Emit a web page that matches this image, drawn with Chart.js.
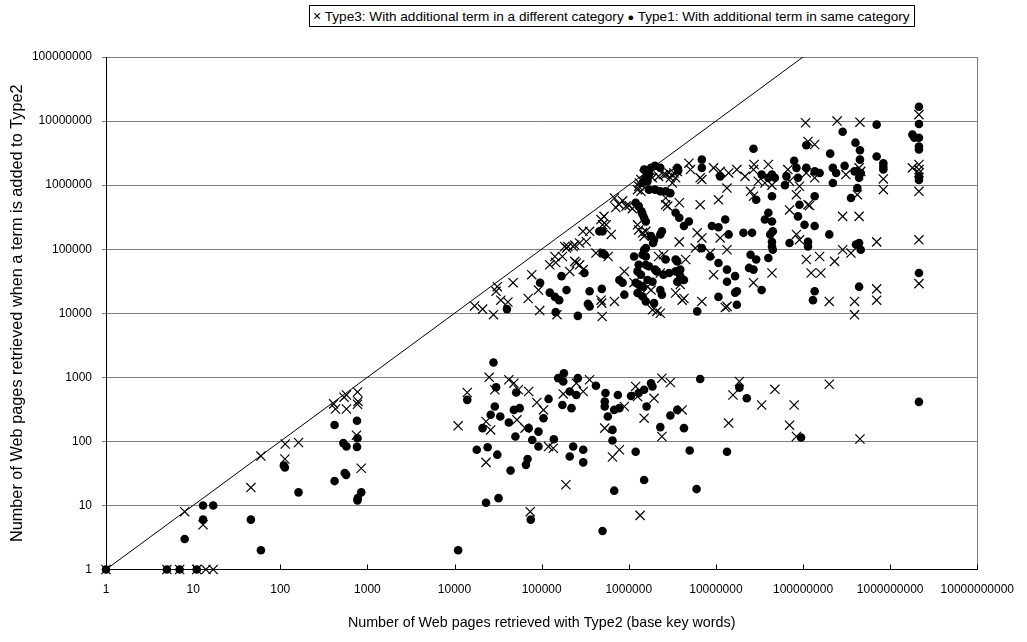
<!DOCTYPE html>
<html>
<head>
<meta charset="utf-8">
<script src="https://cdn.jsdelivr.net/npm/chart.js@4.4.1/dist/chart.umd.min.js"></script>
<style>
  body { margin: 0; background: #fff; }
  #wrap { position: relative; width: 1027px; height: 642px; }
  #legend {
    position: absolute; left: 309px; top: 5px; height: 20px;
    border: 1px solid #000; background: #fff; color: #000;
    font: 13.6px "Liberation Sans", Arial, sans-serif; line-height: 20px;
    padding: 0 4px 0 3px; white-space: nowrap;
  }
</style>
</head>
<body>
<div id="wrap">
  <canvas id="scatter" width="1027" height="642"></canvas>
  <div id="legend"></div>
</div>
<script>
const seriesNames = ['Type3: With additional term in a different category', 'Type1: With additional term in same category'];
const xTitle = 'Number of Web pages retrieved with Type2 (base key words)';
const yTitle = 'Number of Web pages retrieved when a term is added to Type2';

const xTicks = [1, 10, 100, 1e3, 1e4, 1e5, 1e6, 1e7, 1e8, 1e9, 1e10];
const xTickLabels = ['1', '10', '100', '1000', '10000', '100000', '1000000', '10000000', '100000000', '1000000000', '10000000000'];
const yTicks = [1, 10, 100, 1e3, 1e4, 1e5, 1e6, 1e7, 1e8];
const yTickLabels = ['1', '10', '100', '1000', '10000', '100000', '1000000', '10000000', '100000000'];

// y = x reference line
const diagonal = [[1, 1], [1e8, 1e8]];

// Type3 (crosses): [base hits, hits with added term]
const type3Points = [
  [1,1],[5,1],[7,1],[11,1],[14,1],[17,1],[8,8],[13,5],[46,19],[60,59],[114,91],[113,53],[162,96],
  [410,385],[430,320],[540,490],[575,530],[575,320],[770,590],[770,380],[780,420],[750,125],[850,38],
  [17000,13000],[21000,11600],[28000,9500],[31000,26000],[30000,22000],[34000,16000],[41000,15000],
  [47000,30000],[70000,17000],[77000,40000],[92000,23000],[95000,11000],[150000,9500],[124000,57000],
  [145000,62000],[142000,77000],[173000,77000],[184000,110000],[210000,45000],[250000,61000],[273000,57000],
  [240000,64500],[200000,110000],[230000,110000],[240000,116000],[193000,104000],[273000,125000],
  [298000,190000],[325000,132000],[355000,190000],[480000,16000],[490000,14400],[495000,8900],[685000,15300],
  [890000,45000],[630000,170000],[580000,77000],[420000,87000],[500000,240000],[520000,325000],[480000,290000],
  [685000,630000],[710000,448000],[770000,505000],[850000,569000],[1010000,480000],[1100000,430000],
  [5.5e5,2.4e5],[9.3e5,4.7e5],[1.26e6,2.4e5],[1.3e6,2.0e5],[1.44e6,1.8e5],[1.5e6,1.6e5],[1.57e6,1.9e5],
  [2.65e6,6.3e5],[2.65e6,4.95e5],[1.26e6,8.5e5],[1.38e6,8.0e5],[1.3e6,9.6e5],[1.32e6,1.08e6],[1.38e6,1.22e6],
  [1.5e6,1.46e6],[1.87e6,1.3e6],[2.2e6,1.37e6],[2.5e6,1.46e6],[3.0e6,1.3e6],[3.16e6,1.08e6],[1.6e6,1.55e6],
  [1.75e6,1.7e6],[3.0e5,4.8e4],[1.15e6,3.0e4],[1.64e6,2.6e4],[1.8e6,2.3e4],[1.87e6,1.13e4],[2.1e6,1.07e4],
  [2.3e6,1.0e4],[2.2e6,7.7e4],[2.5e6,8.2e4],[3.45e6,2.07e4],[2.3e6,4.25e4],[4.1e6,1.6e4],[4.3e6,1.7e4],
  [3.9e6,2.8e4],[1.44e6,2.07e4],[2.65e6,1.46e6],[3.3e6,1.55e6],[3.6e6,1.64e6],[3.8e6,5.3e5],[4.9e6,2.2e6],
  [5.1e6,1.75e6],[6.6e6,4.95e5],[6.9e6,1.22e6],[9.4e6,1.86e6],[1.07e7,5.9e5],[1.12e7,1.64e6],[1.34e7,9.0e5],
  [1.4e7,1.55e6],[3.8e6,1.3e5],[6.1e6,1.8e5],[6.9e6,1.5e5],[5.8e6,1.04e5],[1.12e7,1.5e5],[1.34e7,9.8e4],
  [8.6e6,8.7e4],[9.4e6,4.0e4],[1.34e7,1.28e4],[2.9e6,1.55e6],[3.45e6,1.3e6],[6.6e6,1.3e6],[1.74e7,1.75e6],
  [2.16e7,1.37e6],[2.7e7,1.75e6],[3.06e7,1.15e6],[3.65e7,1.08e6],[4.4e7,1.0e6],[2.8e6,4.7e5],[2.5e7,8.0e5],
  [2.7e7,6.7e5],[4.5e6,6.9e4],[2.7e7,3.0e4],[6.9e6,1.53e4],[1.28e7,1.23e4],[4.4e7,4.25e4],[6.7e7,1.75e6],
  [7.0e7,1.15e6],[9.1e7,9.6e5],[1.09e8,1.55e6],[1.36e8,1.3e6],[3.1e8,1.46e6],[4.4e8,1.86e6],[4.6e8,1.64e6],
  [8.4e7,7.1e5],[7.0e7,4.1e5],[1.14e8,4.95e5],[2.85e8,3.25e5],[4.4e8,3.25e5],[4.2e8,7.1e5],[8.4e7,1.7e5],
  [9.1e7,1.4e5],[1.09e8,6.9e4],[1.55e8,7.7e4],[2.3e8,6.45e4],[2.85e8,9.8e4],[3.55e8,8.7e4],[1.24e8,4.25e4],
  [1.6e8,4.25e4],[2.0e8,1.53e4],[3.9e8,1.53e4],[3.9e8,9450],[8.35e8,1.25e6],[8.35e8,8.5e5],[7.0e8,1.3e5],
  [7.0e8,2.4e4],[7.0e8,1.6e4],[2.14e9,1.26e7],[1.8e9,1.86e6],[2.14e9,2.1e6],[2.14e9,1.75e6],[2.14e9,1.55e6],
  [2.14e9,8.0e5],[2.14e9,1.4e5],[2.14e9,2.9e4],[4.5e8,9.6e6],[1.07e8,9.4e6],[2.46e8,1.0e7],[1.14e8,4.8e6],
  [1.36e8,4.3e6],[2.74e7,2.1e6],[4.0e7,2.1e6],[1.19e8,4.8e5],
  [1.4e4,580],[1.1e4,175],[2.5e4,1000],[2.9e4,640],[2.3e4,204],[2.6e4,151],[4.2e4,915],[4.8e4,810],
  [5.4e4,640],[7.1e4,600],[5.2e4,217],[6.45e4,161],[8.8e4,404],[1.05e5,310],[1.2e5,83],[1.36e5,78],
  [2.3e4,47],[1.77e5,550],[2.5e5,810],[3.0e5,600],[3.55e5,915],[1.9e5,21],[7.4e4,8],[5.3e5,161],
  [6.5e5,57],[7.8e5,74],[8.9e5,350],[1.2e6,720],[1.26e6,500],[1.5e6,230],[1.95e6,470],[2.4e6,970],
  [3.0e6,830],[2.4e6,119],[4.1e6,310],[1.4e7,193],[1.57e7,530],[1.35e6,7],[1.86e7,860],[4.75e7,650],
  [3.35e7,370],[7.9e7,370],[2.0e8,780],[7.0e7,179],[8.4e7,119],[4.5e8,109]
];

// Type1 (filled circles)
const type1Points = [
  [1,1],[5,1],[7,1],[11,1],[8,3],[13,10],[17,10],[13,6],[46,6],[60,2],[113,39],[110,42],[162,16],
  [420,180],[760,210],[530,94],[575,83],[760,82],[770,112],[550,32],[570,30],[420,24],[850,16],[770,12],[775,13],
  [40000,11600],[96000,30000],[124000,21000],[142000,18000],[159000,16000],[145000,10400],[193000,23000],
  [169000,38000],[310000,42500],[355000,22000],[490000,24000],[260000,9100],[340000,14000],[355000,12800],
  [780000,33000],[850000,30000],[890000,19500],[500000,190000],[460000,190000],[500000,87000],[530000,82000],
  [1.2e6,5.3e5],[1.3e6,4.7e5],[1.4e6,3.9e5],[1.44e6,3.5e5],[1.5e6,3.1e5],[1.57e6,2.7e5],[1.8e6,1.6e5],
  [1.95e6,1.4e5],[2.3e6,1.7e5],[2.4e6,1.9e5],[1.9e6,1.25e5],[2.0e6,8.5e5],[2.3e6,8.0e5],[2.65e6,8.0e5],
  [3.0e6,7.5e5],[1.57e6,1.04e5],[1.5e6,9.8e4],
  [1.15e6,7.7e4],[1.44e6,8.2e4],[1.57e6,7.7e4],[1.3e6,5.7e4],[1.57e6,5.7e4],[1.26e6,4.5e4],[1.38e6,4.0e4],
  [1.2e6,3.0e4],[1.3e6,2.8e4],[1.44e6,2.6e4],[1.26e6,2.07e4],[1.44e6,1.83e4],[1.57e6,1.53e4],[1.95e6,1.44e4],
  [1.64e6,3.3e4],[1.87e6,3.1e4],[2.0e6,4.8e4],[2.1e6,4.5e4],[2.65e6,6.9e4],[2.5e6,4.0e4],[2.9e6,4.25e4],
  [2.3e6,2.3e4],[2.4e6,1.95e4],[3.45e6,6.9e4],[1.7e6,5.4e4],[3.45e6,4.5e4],[3.6e6,3.1e4],[4.3e6,3.3e4],
  [1.5e6,1.75e6],[1.64e6,1.55e6],[1.8e6,1.86e6],[2.0e6,2.0e6],[2.3e6,1.86e6],[1.57e6,1.3e6],[1.44e6,1.08e6],
  [1.64e6,1.15e6],[1.7e6,1.46e6],[1.7e6,8.5e5],[3.6e6,1.86e6],[3.7e6,1.7e6],[6.9e6,2.5e6],[6.9e6,1.86e6],
  [1.12e7,1.37e6],
  [3.45e6,3.7e5],[3.8e6,3.1e5],[4.3e6,2.3e5],[4.9e6,2.7e5],[9.0e6,2.3e5],[1.07e7,2.2e5],[1.28e7,2.9e5],
  [1.4e7,1.7e5],[6.9e6,1.04e5],[8.6e6,7.7e4],[1.07e7,6.1e4],[1.34e7,4.8e4],[1.34e7,3.1e4],[6.1e6,1.07e4],
  [1.07e7,1.8e4],[1.66e7,2.1e4],
  [3.35e7,1.46e6],[4.0e7,1.3e6],[4.4e7,1.46e6],[2.9e7,5.9e5],[4.4e7,6.7e5],[2.07e7,1.8e5],[2.6e7,1.8e5],
  [4.0e7,3.7e5],[3.65e7,2.9e5],[4.4e7,2.7e5],[4.2e7,1.7e5],[4.4e7,1.3e5],[1.66e7,3.8e4],[2.5e7,8.2e4],
  [2.4e7,5.1e4],[2.7e7,4.8e4],[2.9e7,6.9e4],[4.0e7,7.3e4],[4.4e7,1.1e5],[3.35e7,2.3e4],[1.74e7,2.2e4],
  [1.74e7,1.36e4],[3.6e6,6.45e4],[3.9e6,4.8e4],[3.9e6,3.8e4],
  [4.75e7,1.3e6],[6.45e7,1.37e6],[8.4e7,1.86e6],[8.75e7,1.3e6],[1.09e8,1.86e6],[1.36e8,1.64e6],[1.55e8,1.55e6],
  [2.2e8,1.86e6],[2.4e8,1.55e6],[3.0e8,2.0e6],[3.9e8,1.64e6],[4.4e8,1.3e6],[4.6e8,1.55e6],[6.2e7,1.0e6],
  [1.36e8,6.7e5],[9.1e7,4.95e5],[2.2e8,1.08e6],[3.55e8,6.3e5],[4.2e8,9.0e5],[8.75e7,3.25e5],[1.04e8,2.4e5],
  [1.36e8,2.3e5],[2.0e8,1.7e5],[4.5e7,1.9e5],[7.0e7,1.25e5],[1.14e8,1.3e5],[1.14e8,1.1e5],[4.5e7,9.8e4],
  [4.05e8,1.18e5],[4.4e8,1.25e5],[4.6e8,9.8e4],[1.36e8,2.2e4],[1.3e8,1.6e4],[4.4e8,2.6e4],
  [7.0e8,8.8e6],[7.0e8,2.8e6],[8.35e8,2.2e6],[8.35e8,1.93e6],[8.35e8,1.75e6],[2.14e9,1.67e7],[2.14e9,9.0e6],
  [1.8e9,6.15e6],[1.9e9,5.5e6],[2.14e9,5.5e6],[2.14e9,4.0e6],[2.14e9,3.6e6],[2.14e9,1.2e6],[2.14e9,1.37e6],
  [2.14e9,4.25e4],[2.14e9,414],[4.0e8,4.6e6],[4.5e8,3.5e6],[4.5e8,2.5e6],[2.85e8,6.8e6],[2.05e8,3.1e6],
  [1.09e8,4.2e6],[2.7e7,3.7e6],[7.9e7,2.4e6],
  [2.8e4,1700],[1.4e4,445],[3.0e4,700],[5.1e4,580],[2.9e4,350],[2.6e4,260],[3.35e4,244],[4.8e4,310],
  [5.6e4,330],[4.2e4,197],[2.1e4,161],[5.0e4,119],[7.1e4,161],[9.2e4,142],[7.8e4,105],[9.2e4,83],
  [1.05e5,230],[1.2e5,460],[1.38e5,108],[1.8e4,74],[2.4e4,81],[3.1e4,62],[6.9e4,53],[6.6e4,43],[4.4e4,35],
  [2.3e4,11],[3.2e4,13],[7.5e4,6],[1.1e4,2],[1.55e5,970],[1.8e5,1160],[1.77e5,860],[2.6e5,970],[2.1e5,600],
  [2.5e5,530],[4.2e5,740],[1.73e5,370],[2.2e5,330],[5.4e5,570],[5.3e5,420],[5.3e5,350],[7.5e5,530],
  [5.75e5,244],[6.8e5,310],[7.8e5,330],[6.5e5,151],[6.5e5,103],[1.06e6,510],[1.3e6,570],[1.5e6,640],
  [1.8e6,810],[1.87e6,720],[1.6e6,350],[2.3e6,167],[3.0e6,253],[3.6e6,310],[4.3e6,161],[6.6e6,940],
  [2.3e5,83],[3.0e5,74],[2.1e5,58],[3.0e5,47],[1.2e6,69],[5.0e6,72],[1.34e7,69],[1.5e6,25],[6.8e5,17],
  [6.0e6,18],[5.0e5,4],[1.86e7,690],[2.26e7,470],[9.5e7,115]
];

const fontFamily = '"Liberation Sans", Arial, sans-serif';
Chart.defaults.font.family = fontFamily;
Chart.defaults.color = '#000';

const toXY = p => ({ x: p[0], y: p[1] });

// html legend, entries built from the series names
document.getElementById('legend').innerHTML =
  '<span style="font-size:14px">&times;</span> ' + seriesNames[0] +
  ' <span style="font-size:11px">&#9679;</span> ' + seriesNames[1];

// gray right edge of the plot area and short inward ticks on the x axis
const plotFrame = {
  id: 'plotFrame',
  beforeDatasetsDraw(chart) {
    const { ctx, chartArea: a, scales: { x } } = chart;
    ctx.save();
    ctx.lineWidth = 1;
    ctx.strokeStyle = '#808080';
    ctx.beginPath();
    ctx.moveTo(Math.round(a.right) + 0.5, a.top);
    ctx.lineTo(Math.round(a.right) + 0.5, a.bottom);
    ctx.stroke();
    ctx.strokeStyle = '#000';
    ctx.beginPath();
    xTicks.forEach(v => {
      const px = Math.round(x.getPixelForValue(v)) + 0.5;
      ctx.moveTo(px, a.bottom);
      ctx.lineTo(px, a.bottom - 5);
    });
    ctx.stroke();
    ctx.restore();
  }
};

new Chart(document.getElementById('scatter'), {
  type: 'scatter',
  data: {
    datasets: [
      {
        label: seriesNames[0],
        data: type3Points.map(toXY),
        pointStyle: 'crossRot',
        pointRadius: 6.5,
        borderColor: '#000',
        backgroundColor: '#000',
        borderWidth: 1.2,
        clip: false
      },
      {
        label: seriesNames[1],
        data: type1Points.map(toXY),
        pointStyle: 'circle',
        pointRadius: 4.3,
        backgroundColor: '#000',
        borderColor: '#000',
        borderWidth: 0,
        clip: false
      },
      {
        label: 'y = x',
        data: diagonal.map(toXY),
        showLine: true,
        pointRadius: 0,
        borderColor: '#000',
        borderWidth: 1
      }
    ]
  },
  options: {
    responsive: false,
    animation: false,
    events: [],
    devicePixelRatio: 1,
    layout: { padding: { top: 57, right: 43, left: 0, bottom: 0 } },
    plugins: {
      legend: { display: false },
      tooltip: { enabled: false }
    },
    scales: {
      x: {
        type: 'logarithmic',
        min: 1,
        max: 1e10,
        afterBuildTicks: s => { s.ticks = xTicks.map(v => ({ value: v })); },
        afterFit: s => { s.height = 72.5; },
        ticks: {
          callback: (v, i) => xTickLabels[i],
          font: { size: 12 },
          color: '#000',
          padding: 13,
          maxRotation: 0,
          autoSkip: false
        },
        grid: { display: false, drawTicks: false },
        border: { display: true, color: '#000', width: 1 },
        title: {
          display: true,
          text: xTitle,
          font: { size: 14.3 },
          color: '#000',
          padding: { top: 10, bottom: 10.5 }
        }
      },
      y: {
        type: 'logarithmic',
        min: 1,
        max: 1e8,
        afterBuildTicks: s => { s.ticks = yTicks.map(v => ({ value: v })); },
        afterFit: s => { s.width = 106; },
        ticks: {
          callback: (v, i) => yTickLabels[i],
          font: { size: 12 },
          color: '#000',
          padding: 10,
          autoSkip: false
        },
        grid: { color: '#808080', lineWidth: 1, tickLength: 4, tickColor: '#808080' },
        border: { color: '#000', width: 1 },
        title: {
          display: true,
          text: yTitle,
          font: { size: 16.3 },
          color: '#000',
          padding: { top: 7.5, bottom: 7.5 }
        }
      }
    }
  },
  plugins: [plotFrame]
});
</script>
</body>
</html>
